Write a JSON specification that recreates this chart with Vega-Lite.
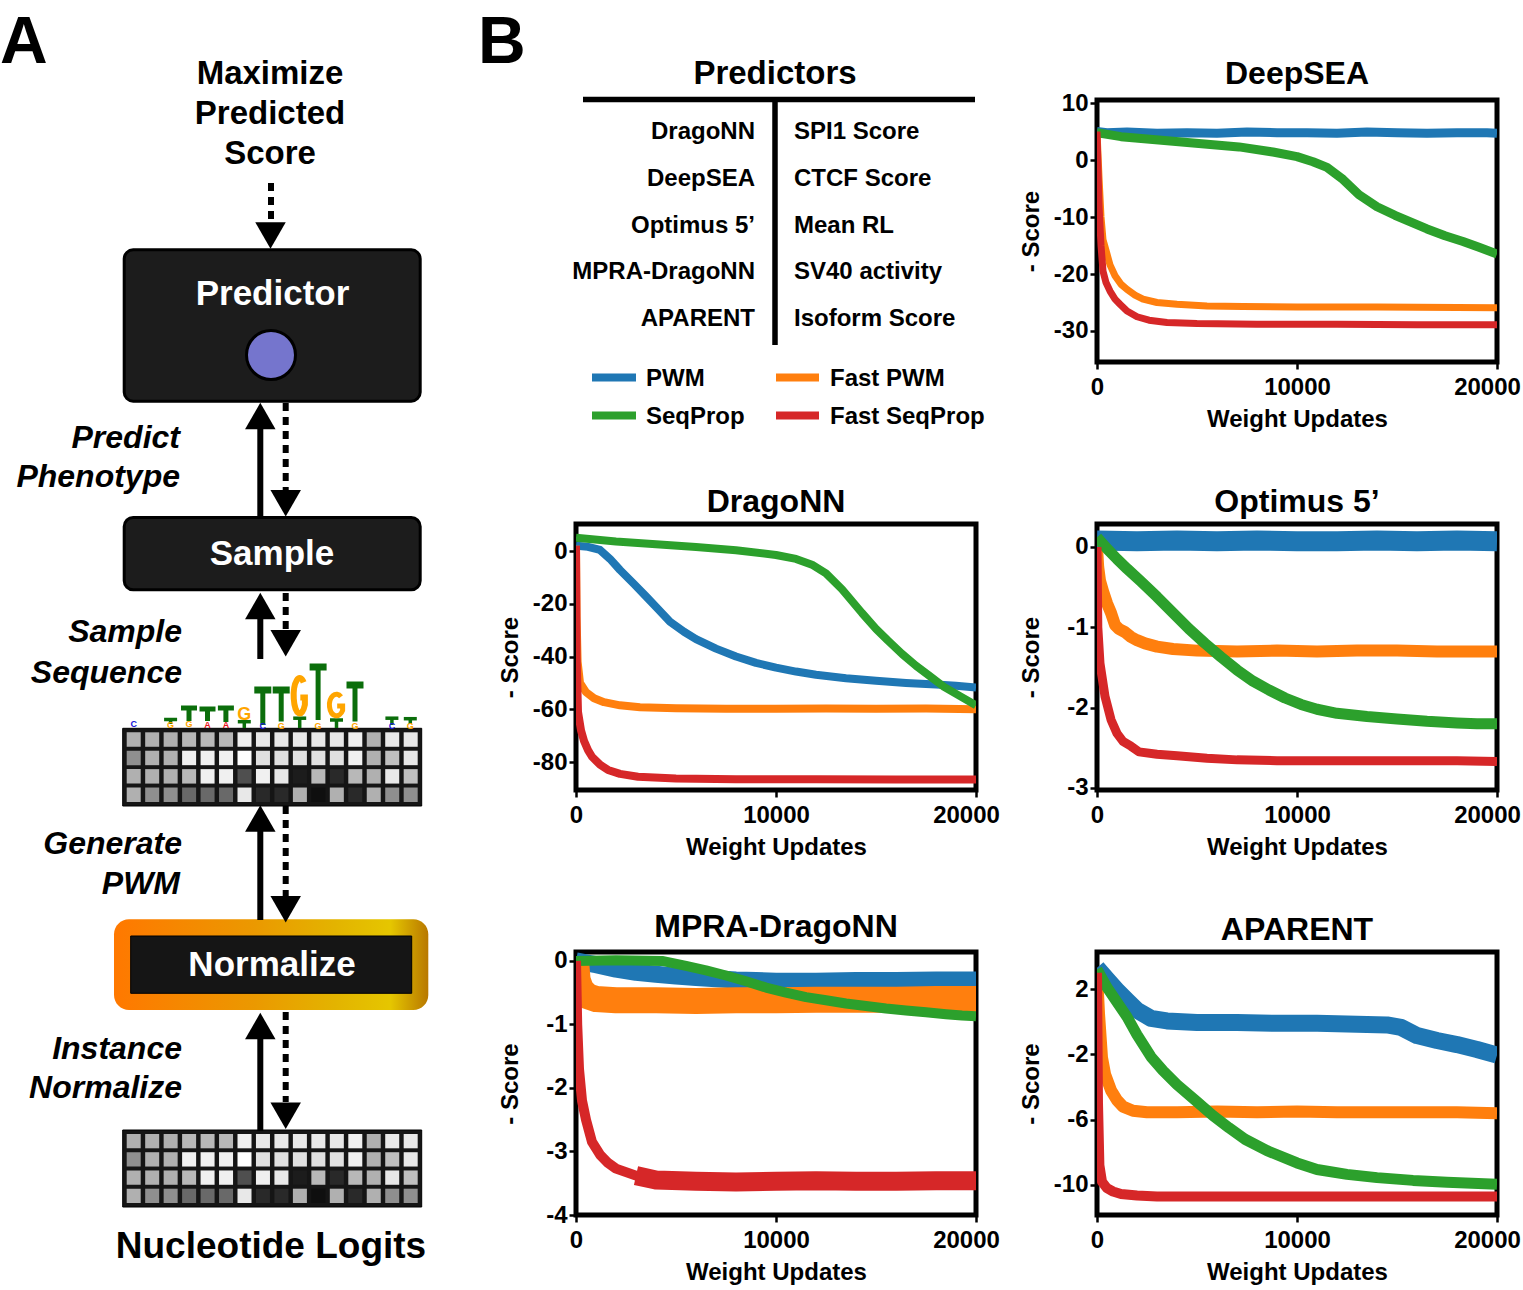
{
"$schema":"https://vega.github.io/schema/vega-lite/v6.json",
"padding":0,
"background":"white",
"config":{
 "view":{"stroke":null},
 "font":"Liberation Sans",
 "text":{"font":"Liberation Sans","fontWeight":"bold"},
 "axis":{"domain":false,"grid":false,"labelFont":"Liberation Sans","labelFontSize":24,"labelFontWeight":"bold","labelColor":"#000","titleFont":"Liberation Sans","titleFontSize":24,"titleFontWeight":"bold","titleColor":"#000","tickColor":"#000","tickSize":7,"tickWidth":2.5,"labelOverlap":false},
 "axisX":{"labelFlush":false,"labelPadding":6,"titlePadding":8},
 "axisY":{"labelPadding":2,"titlePadding":9,"minExtent":45,"maxExtent":45},
 "title":{"font":"Liberation Sans","fontSize":32,"fontWeight":"bold","color":"#000","frame":"group","offset":5,"anchor":"middle"}
},
"datasets":{
 "cells":[
  {"c":0,"r":0,"v":0.69},{"c":1,"r":0,"v":0.69},{"c":2,"r":0,"v":0.69},{"c":3,"r":0,"v":0.72},{"c":4,"r":0,"v":0.72},{"c":5,"r":0,"v":0.72},{"c":6,"r":0,"v":0.94},{"c":7,"r":0,"v":0.91},{"c":8,"r":0,"v":0.91},{"c":9,"r":0,"v":0.91},{"c":10,"r":0,"v":0.91},{"c":11,"r":0,"v":0.91},{"c":12,"r":0,"v":0.94},{"c":13,"r":0,"v":0.69},{"c":14,"r":0,"v":0.91},{"c":15,"r":0,"v":0.91},
  {"c":0,"r":1,"v":0.56},{"c":1,"r":1,"v":0.69},{"c":2,"r":1,"v":0.69},{"c":3,"r":1,"v":0.94},{"c":4,"r":1,"v":0.94},{"c":5,"r":1,"v":0.94},{"c":6,"r":1,"v":1.0},{"c":7,"r":1,"v":0.88},{"c":8,"r":1,"v":0.88},{"c":9,"r":1,"v":0.88},{"c":10,"r":1,"v":0.88},{"c":11,"r":1,"v":0.88},{"c":12,"r":1,"v":0.94},{"c":13,"r":1,"v":0.69},{"c":14,"r":1,"v":0.75},{"c":15,"r":1,"v":0.91},
  {"c":0,"r":2,"v":0.69},{"c":1,"r":2,"v":0.69},{"c":2,"r":2,"v":0.69},{"c":3,"r":2,"v":0.72},{"c":4,"r":2,"v":0.94},{"c":5,"r":2,"v":0.94},{"c":6,"r":2,"v":0.31},{"c":7,"r":2,"v":0.94},{"c":8,"r":2,"v":0.91},{"c":9,"r":2,"v":0.11},{"c":10,"r":2,"v":0.72},{"c":11,"r":2,"v":0.16},{"c":12,"r":2,"v":0.72},{"c":13,"r":2,"v":0.69},{"c":14,"r":2,"v":0.91},{"c":15,"r":2,"v":0.75},
  {"c":0,"r":3,"v":0.69},{"c":1,"r":3,"v":0.56},{"c":2,"r":3,"v":0.56},{"c":3,"r":3,"v":0.41},{"c":4,"r":3,"v":0.41},{"c":5,"r":3,"v":0.41},{"c":6,"r":3,"v":0.91},{"c":7,"r":3,"v":0.16},{"c":8,"r":3,"v":0.16},{"c":9,"r":3,"v":0.69},{"c":10,"r":3,"v":0.06},{"c":11,"r":3,"v":0.69},{"c":12,"r":3,"v":0.16},{"c":13,"r":3,"v":0.69},{"c":14,"r":3,"v":0.56},{"c":15,"r":3,"v":0.56}
 ],
 "logoT":[
  {"x":262.8,"t":690,"b":725,"k":"big"},{"x":281.2,"t":690,"b":721.5,"k":"big"},{"x":318.1,"t":667,"b":720,"k":"big"},{"x":355.0,"t":685,"b":721.5,"k":"big"},
  {"x":189.0,"t":708,"b":721,"k":"mid"},{"x":207.5,"t":709,"b":721,"k":"mid"},{"x":225.9,"t":708,"b":722,"k":"mid"},
  {"x":170.6,"t":719.5,"b":724,"k":"small"},{"x":244.3,"t":721.7,"b":728,"k":"small"},{"x":299.7,"t":718.2,"b":728,"k":"small"},{"x":336.5,"t":720,"b":728,"k":"small"},{"x":391.9,"t":718.2,"b":725,"k":"small"},{"x":410.3,"t":718.7,"b":724,"k":"small"}
 ],
 "logoS":[
  {"x":133.7,"y":727,"L":"C"},{"x":170.6,"y":728,"L":"G"},{"x":189.0,"y":727,"L":"G"},{"x":207.5,"y":727.5,"L":"A"},{"x":225.9,"y":728,"L":"A"},{"x":262.8,"y":728.5,"L":"C"},{"x":281.2,"y":728.5,"L":"G"},{"x":318.1,"y":728.5,"L":"G"},{"x":355.0,"y":728.5,"L":"G"},{"x":391.9,"y":728.5,"L":"C"},{"x":410.3,"y":728.5,"L":"G"}
 ],
 "dsea":[
  {"s":"PWM","x":0,"y":5.0},{"s":"PWM","x":500,"y":4.8},{"s":"PWM","x":1500,"y":4.9},{"s":"PWM","x":3000,"y":4.7},{"s":"PWM","x":4500,"y":4.8},{"s":"PWM","x":6000,"y":4.7},{"s":"PWM","x":7500,"y":4.9},{"s":"PWM","x":9000,"y":4.8},{"s":"PWM","x":10500,"y":4.8},{"s":"PWM","x":12000,"y":4.7},{"s":"PWM","x":13500,"y":4.9},{"s":"PWM","x":15000,"y":4.8},{"s":"PWM","x":16500,"y":4.7},{"s":"PWM","x":18000,"y":4.8},{"s":"PWM","x":19500,"y":4.8},{"s":"PWM","x":20000,"y":4.7},
  {"s":"Fast PWM","x":0,"y":5},{"s":"Fast PWM","x":100,"y":-3},{"s":"Fast PWM","x":200,"y":-10},{"s":"Fast PWM","x":300,"y":-14},{"s":"Fast PWM","x":500,"y":-16.5},{"s":"Fast PWM","x":650,"y":-18.4},{"s":"Fast PWM","x":900,"y":-20.3},{"s":"Fast PWM","x":1200,"y":-21.8},{"s":"Fast PWM","x":1500,"y":-22.7},{"s":"Fast PWM","x":1900,"y":-23.7},{"s":"Fast PWM","x":2300,"y":-24.4},{"s":"Fast PWM","x":3000,"y":-25},{"s":"Fast PWM","x":4000,"y":-25.3},{"s":"Fast PWM","x":5500,"y":-25.6},{"s":"Fast PWM","x":7300,"y":-25.7},{"s":"Fast PWM","x":10000,"y":-25.8},{"s":"Fast PWM","x":14000,"y":-25.8},{"s":"Fast PWM","x":20000,"y":-25.9},
  {"s":"SeqProp","x":0,"y":4.8},{"s":"SeqProp","x":1200,"y":4.1},{"s":"SeqProp","x":3800,"y":3.3},{"s":"SeqProp","x":7100,"y":2.3},{"s":"SeqProp","x":8800,"y":1.4},{"s":"SeqProp","x":10000,"y":0.6},{"s":"SeqProp","x":10800,"y":-0.3},{"s":"SeqProp","x":11500,"y":-1.3},{"s":"SeqProp","x":12300,"y":-3.4},{"s":"SeqProp","x":13100,"y":-6.1},{"s":"SeqProp","x":14000,"y":-8.2},{"s":"SeqProp","x":14900,"y":-9.7},{"s":"SeqProp","x":15700,"y":-10.9},{"s":"SeqProp","x":16500,"y":-12.1},{"s":"SeqProp","x":17400,"y":-13.3},{"s":"SeqProp","x":18300,"y":-14.3},{"s":"SeqProp","x":19100,"y":-15.3},{"s":"SeqProp","x":20000,"y":-16.5},
  {"s":"Fast SeqProp","x":0,"y":5},{"s":"Fast SeqProp","x":100,"y":-8},{"s":"Fast SeqProp","x":200,"y":-15},{"s":"Fast SeqProp","x":300,"y":-19.5},{"s":"Fast SeqProp","x":450,"y":-21.5},{"s":"Fast SeqProp","x":650,"y":-23},{"s":"Fast SeqProp","x":900,"y":-24.4},{"s":"Fast SeqProp","x":1150,"y":-25.3},{"s":"Fast SeqProp","x":1500,"y":-26.5},{"s":"Fast SeqProp","x":2000,"y":-27.5},{"s":"Fast SeqProp","x":2600,"y":-28.1},{"s":"Fast SeqProp","x":3500,"y":-28.5},{"s":"Fast SeqProp","x":5000,"y":-28.7},{"s":"Fast SeqProp","x":8000,"y":-28.8},{"s":"Fast SeqProp","x":12000,"y":-28.8},{"s":"Fast SeqProp","x":16000,"y":-28.9},{"s":"Fast SeqProp","x":20000,"y":-28.9}
 ],
 "drag":[
  {"s":"PWM","x":0,"y":2},{"s":"PWM","x":600,"y":1.6},{"s":"PWM","x":1200,"y":0.4},{"s":"PWM","x":1700,"y":-3},{"s":"PWM","x":2200,"y":-7.2},{"s":"PWM","x":2900,"y":-12.5},{"s":"PWM","x":3500,"y":-17.2},{"s":"PWM","x":4100,"y":-22},{"s":"PWM","x":4700,"y":-26.8},{"s":"PWM","x":5400,"y":-30.6},{"s":"PWM","x":6000,"y":-33.4},{"s":"PWM","x":7000,"y":-37},{"s":"PWM","x":8000,"y":-40},{"s":"PWM","x":9000,"y":-42.4},{"s":"PWM","x":10000,"y":-44.2},{"s":"PWM","x":11000,"y":-45.7},{"s":"PWM","x":12000,"y":-46.9},{"s":"PWM","x":13500,"y":-48.2},{"s":"PWM","x":15000,"y":-49.2},{"s":"PWM","x":16500,"y":-50},{"s":"PWM","x":18000,"y":-50.6},{"s":"PWM","x":19000,"y":-51.1},{"s":"PWM","x":20000,"y":-51.7},
  {"s":"Fast PWM","x":0,"y":2},{"s":"Fast PWM","x":30,"y":-25},{"s":"Fast PWM","x":80,"y":-42},{"s":"Fast PWM","x":200,"y":-50},{"s":"Fast PWM","x":500,"y":-53.5},{"s":"Fast PWM","x":900,"y":-55.8},{"s":"Fast PWM","x":1400,"y":-57.3},{"s":"Fast PWM","x":2200,"y":-58.5},{"s":"Fast PWM","x":3200,"y":-59.2},{"s":"Fast PWM","x":5000,"y":-59.6},{"s":"Fast PWM","x":7500,"y":-59.8},{"s":"Fast PWM","x":10000,"y":-59.8},{"s":"Fast PWM","x":12500,"y":-59.7},{"s":"Fast PWM","x":15000,"y":-59.8},{"s":"Fast PWM","x":17500,"y":-59.7},{"s":"Fast PWM","x":20000,"y":-60},
  {"s":"SeqProp","x":0,"y":5},{"s":"SeqProp","x":2000,"y":3.6},{"s":"SeqProp","x":4000,"y":2.6},{"s":"SeqProp","x":6000,"y":1.5},{"s":"SeqProp","x":8000,"y":0.3},{"s":"SeqProp","x":10000,"y":-1.5},{"s":"SeqProp","x":11000,"y":-3},{"s":"SeqProp","x":11800,"y":-5.2},{"s":"SeqProp","x":12500,"y":-8.5},{"s":"SeqProp","x":13300,"y":-14.5},{"s":"SeqProp","x":14300,"y":-23.5},{"s":"SeqProp","x":15000,"y":-29.5},{"s":"SeqProp","x":15600,"y":-34},{"s":"SeqProp","x":16300,"y":-39},{"s":"SeqProp","x":17000,"y":-43.5},{"s":"SeqProp","x":17700,"y":-47.5},{"s":"SeqProp","x":18400,"y":-51.5},{"s":"SeqProp","x":19200,"y":-55},{"s":"SeqProp","x":20000,"y":-58.5},
  {"s":"Fast SeqProp","x":0,"y":2},{"s":"Fast SeqProp","x":30,"y":-40},{"s":"Fast SeqProp","x":100,"y":-61},{"s":"Fast SeqProp","x":250,"y":-68},{"s":"Fast SeqProp","x":400,"y":-72},{"s":"Fast SeqProp","x":600,"y":-75.5},{"s":"Fast SeqProp","x":800,"y":-78},{"s":"Fast SeqProp","x":1200,"y":-81},{"s":"Fast SeqProp","x":1600,"y":-83},{"s":"Fast SeqProp","x":2200,"y":-84.5},{"s":"Fast SeqProp","x":3100,"y":-85.6},{"s":"Fast SeqProp","x":5000,"y":-86.2},{"s":"Fast SeqProp","x":8000,"y":-86.5},{"s":"Fast SeqProp","x":12000,"y":-86.5},{"s":"Fast SeqProp","x":16000,"y":-86.6},{"s":"Fast SeqProp","x":20000,"y":-86.6}
 ],
 "opt":[
  {"s":"PWM","x":0,"y":0.08},{"s":"PWM","x":2000,"y":0.07},{"s":"PWM","x":4000,"y":0.08},{"s":"PWM","x":6000,"y":0.07},{"s":"PWM","x":8000,"y":0.08},{"s":"PWM","x":10000,"y":0.07},{"s":"PWM","x":12000,"y":0.07},{"s":"PWM","x":14000,"y":0.08},{"s":"PWM","x":16000,"y":0.07},{"s":"PWM","x":18000,"y":0.08},{"s":"PWM","x":20000,"y":0.07},
  {"s":"Fast PWM","x":0,"y":0.0},{"s":"Fast PWM","x":60,"y":-0.25},{"s":"Fast PWM","x":150,"y":-0.42},{"s":"Fast PWM","x":300,"y":-0.55},{"s":"Fast PWM","x":500,"y":-0.7},{"s":"Fast PWM","x":700,"y":-0.82},{"s":"Fast PWM","x":900,"y":-0.97},{"s":"Fast PWM","x":1100,"y":-1.02},{"s":"Fast PWM","x":1400,"y":-1.06},{"s":"Fast PWM","x":1700,"y":-1.12},{"s":"Fast PWM","x":2000,"y":-1.16},{"s":"Fast PWM","x":2400,"y":-1.2},{"s":"Fast PWM","x":3000,"y":-1.24},{"s":"Fast PWM","x":3800,"y":-1.27},{"s":"Fast PWM","x":5000,"y":-1.29},{"s":"Fast PWM","x":7000,"y":-1.3},{"s":"Fast PWM","x":9000,"y":-1.29},{"s":"Fast PWM","x":11000,"y":-1.3},{"s":"Fast PWM","x":13000,"y":-1.29},{"s":"Fast PWM","x":15000,"y":-1.29},{"s":"Fast PWM","x":17000,"y":-1.3},{"s":"Fast PWM","x":20000,"y":-1.3},
  {"s":"SeqProp","x":0,"y":0.12},{"s":"SeqProp","x":500,"y":-0.02},{"s":"SeqProp","x":1000,"y":-0.15},{"s":"SeqProp","x":1500,"y":-0.27},{"s":"SeqProp","x":2200,"y":-0.43},{"s":"SeqProp","x":3000,"y":-0.62},{"s":"SeqProp","x":3800,"y":-0.82},{"s":"SeqProp","x":4600,"y":-1.02},{"s":"SeqProp","x":5400,"y":-1.2},{"s":"SeqProp","x":6200,"y":-1.37},{"s":"SeqProp","x":7000,"y":-1.53},{"s":"SeqProp","x":7800,"y":-1.67},{"s":"SeqProp","x":8600,"y":-1.78},{"s":"SeqProp","x":9400,"y":-1.88},{"s":"SeqProp","x":10200,"y":-1.96},{"s":"SeqProp","x":11000,"y":-2.02},{"s":"SeqProp","x":12000,"y":-2.07},{"s":"SeqProp","x":13500,"y":-2.11},{"s":"SeqProp","x":15000,"y":-2.14},{"s":"SeqProp","x":16500,"y":-2.17},{"s":"SeqProp","x":18000,"y":-2.19},{"s":"SeqProp","x":19000,"y":-2.2},{"s":"SeqProp","x":20000,"y":-2.2},
  {"s":"Fast SeqProp","x":0,"y":0.0},{"s":"Fast SeqProp","x":40,"y":-1.0},{"s":"Fast SeqProp","x":150,"y":-1.45},{"s":"Fast SeqProp","x":400,"y":-1.86},{"s":"Fast SeqProp","x":700,"y":-2.15},{"s":"Fast SeqProp","x":1000,"y":-2.32},{"s":"Fast SeqProp","x":1300,"y":-2.42},{"s":"Fast SeqProp","x":1700,"y":-2.48},{"s":"Fast SeqProp","x":2100,"y":-2.55},{"s":"Fast SeqProp","x":3000,"y":-2.58},{"s":"Fast SeqProp","x":4000,"y":-2.6},{"s":"Fast SeqProp","x":5500,"y":-2.63},{"s":"Fast SeqProp","x":7000,"y":-2.65},{"s":"Fast SeqProp","x":9000,"y":-2.66},{"s":"Fast SeqProp","x":12000,"y":-2.66},{"s":"Fast SeqProp","x":15000,"y":-2.66},{"s":"Fast SeqProp","x":18000,"y":-2.66},{"s":"Fast SeqProp","x":20000,"y":-2.67}
 ],
 "mpra":[
  {"s":"PWM","x":0,"y":0},{"s":"PWM","x":500,"y":-0.03},{"s":"PWM","x":1000,"y":-0.06},{"s":"PWM","x":2000,"y":-0.13},{"s":"PWM","x":3000,"y":-0.18},{"s":"PWM","x":4000,"y":-0.21},{"s":"PWM","x":5000,"y":-0.24},{"s":"PWM","x":6000,"y":-0.26},{"s":"PWM","x":7000,"y":-0.28},{"s":"PWM","x":8000,"y":-0.3},{"s":"PWM","x":9000,"y":-0.31},{"s":"PWM","x":10000,"y":-0.32},{"s":"PWM","x":12000,"y":-0.32},{"s":"PWM","x":14000,"y":-0.31},{"s":"PWM","x":16000,"y":-0.31},{"s":"PWM","x":18000,"y":-0.3},{"s":"PWM","x":20000,"y":-0.3},
  {"s":"Fast PWM","x":0,"y":0},{"s":"Fast PWM","x":80,"y":-0.3},{"s":"Fast PWM","x":250,"y":-0.45},{"s":"Fast PWM","x":600,"y":-0.56},{"s":"Fast PWM","x":1000,"y":-0.6},{"s":"Fast PWM","x":2000,"y":-0.62},{"s":"Fast PWM","x":4000,"y":-0.62},{"s":"Fast PWM","x":6000,"y":-0.63},{"s":"Fast PWM","x":8000,"y":-0.62},{"s":"Fast PWM","x":10000,"y":-0.62},{"s":"Fast PWM","x":12000,"y":-0.61},{"s":"Fast PWM","x":14000,"y":-0.61},{"s":"Fast PWM","x":16000,"y":-0.61},{"s":"Fast PWM","x":18000,"y":-0.6},{"s":"Fast PWM","x":20000,"y":-0.6},
  {"s":"SeqProp","x":0,"y":0},{"s":"SeqProp","x":2000,"y":0.01},{"s":"SeqProp","x":4300,"y":0.0},{"s":"SeqProp","x":5500,"y":-0.08},{"s":"SeqProp","x":6500,"y":-0.15},{"s":"SeqProp","x":7500,"y":-0.23},{"s":"SeqProp","x":8500,"y":-0.32},{"s":"SeqProp","x":9500,"y":-0.42},{"s":"SeqProp","x":10500,"y":-0.5},{"s":"SeqProp","x":11500,"y":-0.57},{"s":"SeqProp","x":12500,"y":-0.62},{"s":"SeqProp","x":13500,"y":-0.67},{"s":"SeqProp","x":14500,"y":-0.71},{"s":"SeqProp","x":15500,"y":-0.75},{"s":"SeqProp","x":16500,"y":-0.78},{"s":"SeqProp","x":17500,"y":-0.81},{"s":"SeqProp","x":18500,"y":-0.84},{"s":"SeqProp","x":19300,"y":-0.86},{"s":"SeqProp","x":20000,"y":-0.87},
  {"s":"Fast SeqProp","x":0,"y":0},{"s":"Fast SeqProp","x":60,"y":-1.0},{"s":"Fast SeqProp","x":150,"y":-1.7},{"s":"Fast SeqProp","x":300,"y":-2.2},{"s":"Fast SeqProp","x":500,"y":-2.5},{"s":"Fast SeqProp","x":800,"y":-2.85},{"s":"Fast SeqProp","x":1200,"y":-3.05},{"s":"Fast SeqProp","x":1600,"y":-3.18},{"s":"Fast SeqProp","x":2000,"y":-3.27},{"s":"Fast SeqProp","x":3000,"y":-3.38},{"s":"Fast SeqProp","x":4000,"y":-3.45},{"s":"Fast SeqProp","x":6000,"y":-3.47},{"s":"Fast SeqProp","x":8000,"y":-3.48},{"s":"Fast SeqProp","x":10000,"y":-3.47},{"s":"Fast SeqProp","x":12000,"y":-3.46},{"s":"Fast SeqProp","x":14000,"y":-3.47},{"s":"Fast SeqProp","x":16000,"y":-3.47},{"s":"Fast SeqProp","x":18000,"y":-3.46},{"s":"Fast SeqProp","x":20000,"y":-3.46}
 ],
 "apar":[
  {"s":"PWM","x":0,"y":3.3},{"s":"PWM","x":500,"y":2.6},{"s":"PWM","x":1000,"y":1.9},{"s":"PWM","x":1500,"y":1.3},{"s":"PWM","x":2000,"y":0.7},{"s":"PWM","x":2700,"y":0.2},{"s":"PWM","x":3500,"y":0.05},{"s":"PWM","x":5000,"y":-0.05},{"s":"PWM","x":7000,"y":-0.05},{"s":"PWM","x":9000,"y":-0.1},{"s":"PWM","x":11000,"y":-0.1},{"s":"PWM","x":13000,"y":-0.15},{"s":"PWM","x":14500,"y":-0.2},{"s":"PWM","x":15200,"y":-0.35},{"s":"PWM","x":16000,"y":-0.85},{"s":"PWM","x":17000,"y":-1.15},{"s":"PWM","x":18000,"y":-1.4},{"s":"PWM","x":19000,"y":-1.7},{"s":"PWM","x":20000,"y":-2.05},
  {"s":"Fast PWM","x":0,"y":3.0},{"s":"Fast PWM","x":100,"y":0.5},{"s":"Fast PWM","x":250,"y":-2.2},{"s":"Fast PWM","x":400,"y":-3.2},{"s":"Fast PWM","x":700,"y":-4.2},{"s":"Fast PWM","x":1000,"y":-4.8},{"s":"Fast PWM","x":1300,"y":-5.2},{"s":"Fast PWM","x":1800,"y":-5.45},{"s":"Fast PWM","x":2500,"y":-5.55},{"s":"Fast PWM","x":4000,"y":-5.55},{"s":"Fast PWM","x":6000,"y":-5.5},{"s":"Fast PWM","x":8000,"y":-5.55},{"s":"Fast PWM","x":10000,"y":-5.5},{"s":"Fast PWM","x":12000,"y":-5.55},{"s":"Fast PWM","x":14000,"y":-5.55},{"s":"Fast PWM","x":16000,"y":-5.55},{"s":"Fast PWM","x":18000,"y":-5.55},{"s":"Fast PWM","x":20000,"y":-5.6},
  {"s":"SeqProp","x":0,"y":3.2},{"s":"SeqProp","x":500,"y":2.1},{"s":"SeqProp","x":1000,"y":1.2},{"s":"SeqProp","x":1500,"y":0.3},{"s":"SeqProp","x":2000,"y":-0.8},{"s":"SeqProp","x":2700,"y":-2.15},{"s":"SeqProp","x":3300,"y":-3.0},{"s":"SeqProp","x":4000,"y":-3.85},{"s":"SeqProp","x":5000,"y":-4.9},{"s":"SeqProp","x":5800,"y":-5.75},{"s":"SeqProp","x":6600,"y":-6.5},{"s":"SeqProp","x":7400,"y":-7.2},{"s":"SeqProp","x":8500,"y":-7.9},{"s":"SeqProp","x":10000,"y":-8.65},{"s":"SeqProp","x":11000,"y":-9.05},{"s":"SeqProp","x":12500,"y":-9.35},{"s":"SeqProp","x":14000,"y":-9.55},{"s":"SeqProp","x":15800,"y":-9.72},{"s":"SeqProp","x":17500,"y":-9.83},{"s":"SeqProp","x":20000,"y":-9.95},
  {"s":"Fast SeqProp","x":0,"y":3.0},{"s":"Fast SeqProp","x":50,"y":-5},{"s":"Fast SeqProp","x":120,"y":-8.8},{"s":"Fast SeqProp","x":250,"y":-9.8},{"s":"Fast SeqProp","x":500,"y":-10.2},{"s":"Fast SeqProp","x":800,"y":-10.4},{"s":"Fast SeqProp","x":1200,"y":-10.55},{"s":"Fast SeqProp","x":2000,"y":-10.65},{"s":"Fast SeqProp","x":3000,"y":-10.7},{"s":"Fast SeqProp","x":6000,"y":-10.7},{"s":"Fast SeqProp","x":10000,"y":-10.7},{"s":"Fast SeqProp","x":14000,"y":-10.7},{"s":"Fast SeqProp","x":18000,"y":-10.7},{"s":"Fast SeqProp","x":20000,"y":-10.7}
 ]
},
"hconcat":[
 {
  "width":470,"height":1290,
  "resolve":{"scale":{"x":"independent","y":"independent","color":"independent"}},
  "layer":[
   {"data":{"values":[{"x":124.2,"x2":420.2,"y":249.8,"y2":401.2},{"x":124.2,"x2":420.2,"y":517.5,"y2":589.8}]},
    "mark":{"type":"rect","cornerRadius":9,"fill":"#1c1c1c","stroke":"#000","strokeWidth":3},
    "encoding":{"x":{"field":"x","type":"quantitative","scale":{"domain":[0,470],"nice":false,"zero":false},"axis":null},"x2":{"field":"x2"},"y":{"field":"y","type":"quantitative","scale":{"domain":[0,1290],"nice":false,"zero":false,"reverse":true},"axis":null},"y2":{"field":"y2"}}},
   {"data":{"values":[{"x":114,"x2":428.3,"y":919.3,"y2":1010}]},
    "mark":{"type":"rect","cornerRadius":15,"fill":{"gradient":"linear","x1":0,"y1":0,"x2":1,"y2":0,"stops":[{"offset":0,"color":"#ff7800"},{"offset":0.45,"color":"#eb9900"},{"offset":0.7,"color":"#e3b300"},{"offset":0.88,"color":"#e5c600"},{"offset":1,"color":"#b87800"}]}},
    "encoding":{"x":{"field":"x","type":"quantitative","scale":{"domain":[0,470],"nice":false,"zero":false},"axis":null},"x2":{"field":"x2"},"y":{"field":"y","type":"quantitative","scale":{"domain":[0,1290],"nice":false,"zero":false,"reverse":true},"axis":null},"y2":{"field":"y2"}}},
   {"data":{"values":[{"x":130.7,"x2":411.7,"y":936,"y2":993.3},{"x":122.7,"x2":421.7,"y":728.3,"y2":806},{"x":122.7,"x2":421.7,"y":1130,"y2":1207}]},
    "mark":{"type":"rect","fill":"#151515","stroke":"#000","strokeWidth":1},
    "encoding":{"x":{"field":"x","type":"quantitative","scale":{"domain":[0,470],"nice":false,"zero":false},"axis":null},"x2":{"field":"x2"},"y":{"field":"y","type":"quantitative","scale":{"domain":[0,1290],"nice":false,"zero":false,"reverse":true},"axis":null},"y2":{"field":"y2"}}},
   {"data":{"name":"cells"},"mark":{"type":"rect"},
    "encoding":{"x":{"field":"c","type":"ordinal","scale":{"range":[122.7,421.7],"paddingInner":0.241,"paddingOuter":0.217},"axis":null},"y":{"field":"r","type":"ordinal","scale":{"range":[728.3,806],"paddingInner":0.214,"paddingOuter":0.218},"axis":null},"color":{"field":"v","type":"quantitative","scale":{"domain":[0,1],"range":["#000000","#ffffff"],"interpolate":"rgb"},"legend":null}}},
   {"data":{"name":"cells"},"mark":{"type":"rect"},
    "encoding":{"x":{"field":"c","type":"ordinal","scale":{"range":[122.7,421.7],"paddingInner":0.241,"paddingOuter":0.217},"axis":null},"y":{"field":"r","type":"ordinal","scale":{"range":[1130,1207],"paddingInner":0.214,"paddingOuter":0.218},"axis":null},"color":{"field":"v","type":"quantitative","scale":{"domain":[0,1],"range":["#000000","#ffffff"],"interpolate":"rgb"},"legend":null}}},
   {"data":{"values":[{"x":271,"y":355}]},
    "mark":{"type":"point","shape":"circle","filled":true,"fill":"#7575cd","stroke":"#000","strokeWidth":3,"size":2400,"opacity":1},
    "encoding":{"x":{"field":"x","type":"quantitative","scale":{"domain":[0,470],"nice":false,"zero":false},"axis":null},"y":{"field":"y","type":"quantitative","scale":{"domain":[0,1290],"nice":false,"zero":false,"reverse":true},"axis":null}}},
   {"data":{"values":[{"x":260.3,"y":420,"y2":517},{"x":260.3,"y":610,"y2":659},{"x":260.3,"y":822,"y2":920},{"x":260.3,"y":1030,"y2":1131}]},
    "mark":{"type":"rule","strokeWidth":6,"color":"#000"},
    "encoding":{"x":{"field":"x","type":"quantitative","scale":{"domain":[0,470],"nice":false,"zero":false},"axis":null},"y":{"field":"y","type":"quantitative","scale":{"domain":[0,1290],"nice":false,"zero":false,"reverse":true},"axis":null},"y2":{"field":"y2"}}},
   {"data":{"values":[{"x":271,"y":183,"y2":223},{"x":285.7,"y":403,"y2":491},{"x":285.7,"y":593,"y2":631},{"x":285.7,"y":806,"y2":897},{"x":285.7,"y":1012,"y2":1102}]},
    "mark":{"type":"rule","strokeWidth":6,"color":"#000","strokeDash":[8,6]},
    "encoding":{"x":{"field":"x","type":"quantitative","scale":{"domain":[0,470],"nice":false,"zero":false},"axis":null},"y":{"field":"y","type":"quantitative","scale":{"domain":[0,1290],"nice":false,"zero":false,"reverse":true},"axis":null},"y2":{"field":"y2"}}},
   {"data":{"values":[{"x":260.3,"y":416},{"x":260.3,"y":606},{"x":260.3,"y":818.5},{"x":260.3,"y":1026}]},
    "mark":{"type":"point","shape":"triangle-up","filled":true,"color":"#000","size":930,"opacity":1},
    "encoding":{"x":{"field":"x","type":"quantitative","scale":{"domain":[0,470],"nice":false,"zero":false},"axis":null},"y":{"field":"y","type":"quantitative","scale":{"domain":[0,1290],"nice":false,"zero":false,"reverse":true},"axis":null}}},
   {"data":{"values":[{"x":270.5,"y":235.5},{"x":285.7,"y":503.3},{"x":285.7,"y":643.3},{"x":285.7,"y":909.2},{"x":285.7,"y":1115.8}]},
    "mark":{"type":"point","shape":"triangle-down","filled":true,"color":"#000","size":930,"opacity":1},
    "encoding":{"x":{"field":"x","type":"quantitative","scale":{"domain":[0,470],"nice":false,"zero":false},"axis":null},"y":{"field":"y","type":"quantitative","scale":{"domain":[0,1290],"nice":false,"zero":false,"reverse":true},"axis":null}}},
   {"data":{"values":[{"x":272.5,"y":305,"t":"Predictor"},{"x":272,"y":565,"t":"Sample"},{"x":272,"y":976,"t":"Normalize"}]},
    "mark":{"type":"text","align":"center","baseline":"alphabetic","fontSize":35,"fontWeight":"bold","color":"#ffffff"},
    "encoding":{"x":{"field":"x","type":"quantitative","scale":{"domain":[0,470],"nice":false,"zero":false},"axis":null},"y":{"field":"y","type":"quantitative","scale":{"domain":[0,1290],"nice":false,"zero":false,"reverse":true},"axis":null},"text":{"field":"t"}}},
   {"data":{"values":[{"x":270,"y":84,"t":"Maximize"},{"x":270,"y":124,"t":"Predicted"},{"x":270,"y":164,"t":"Score"}]},
    "mark":{"type":"text","align":"center","baseline":"alphabetic","fontSize":33,"fontWeight":"bold","color":"#000"},
    "encoding":{"x":{"field":"x","type":"quantitative","scale":{"domain":[0,470],"nice":false,"zero":false},"axis":null},"y":{"field":"y","type":"quantitative","scale":{"domain":[0,1290],"nice":false,"zero":false,"reverse":true},"axis":null},"text":{"field":"t"}}},
   {"data":{"values":[{"x":271,"y":1258,"t":"Nucleotide Logits"}]},
    "mark":{"type":"text","align":"center","baseline":"alphabetic","fontSize":37,"fontWeight":"bold","color":"#000"},
    "encoding":{"x":{"field":"x","type":"quantitative","scale":{"domain":[0,470],"nice":false,"zero":false},"axis":null},"y":{"field":"y","type":"quantitative","scale":{"domain":[0,1290],"nice":false,"zero":false,"reverse":true},"axis":null},"text":{"field":"t"}}},
   {"data":{"values":[{"x":180,"y":448,"t":"Predict"},{"x":180,"y":487,"t":"Phenotype"},{"x":182,"y":642,"t":"Sample"},{"x":182,"y":683,"t":"Sequence"},{"x":182,"y":854,"t":"Generate"},{"x":180,"y":894,"t":"PWM"},{"x":182,"y":1059,"t":"Instance"},{"x":182,"y":1098,"t":"Normalize"}]},
    "mark":{"type":"text","align":"right","baseline":"alphabetic","fontSize":32,"fontWeight":"bold","fontStyle":"italic","color":"#000"},
    "encoding":{"x":{"field":"x","type":"quantitative","scale":{"domain":[0,470],"nice":false,"zero":false},"axis":null},"y":{"field":"y","type":"quantitative","scale":{"domain":[0,1290],"nice":false,"zero":false,"reverse":true},"axis":null},"text":{"field":"t"}}},
   {"data":{"values":[{"x":0,"y":63,"t":"A"}]},
    "mark":{"type":"text","align":"left","baseline":"alphabetic","fontSize":66,"fontWeight":"bold","color":"#000"},
    "encoding":{"x":{"field":"x","type":"quantitative","scale":{"domain":[0,470],"nice":false,"zero":false},"axis":null},"y":{"field":"y","type":"quantitative","scale":{"domain":[0,1290],"nice":false,"zero":false,"reverse":true},"axis":null},"text":{"field":"t"}}},
   {"data":{"name":"logoT"},"transform":[{"filter":"datum.k != 'small'"}],
    "mark":{"type":"rule","strokeWidth":5,"color":"#0b6e0b"},
    "encoding":{"x":{"field":"x","type":"quantitative","scale":{"domain":[0,470],"nice":false,"zero":false},"axis":null},"y":{"field":"t","type":"quantitative","scale":{"domain":[0,1290],"nice":false,"zero":false,"reverse":true},"axis":null},"y2":{"field":"b"}}},
   {"data":{"name":"logoT"},"transform":[{"filter":"datum.k == 'small'"}],
    "mark":{"type":"rule","strokeWidth":3.5,"color":"#0b6e0b"},
    "encoding":{"x":{"field":"x","type":"quantitative","scale":{"domain":[0,470],"nice":false,"zero":false},"axis":null},"y":{"field":"t","type":"quantitative","scale":{"domain":[0,1290],"nice":false,"zero":false,"reverse":true},"axis":null},"y2":{"field":"b"}}},
   {"data":{"name":"logoT"},"transform":[{"filter":"datum.k == 'big'"}],
    "mark":{"type":"tick","orient":"horizontal","thickness":7,"size":17,"color":"#0b6e0b","opacity":1},
    "encoding":{"x":{"field":"x","type":"quantitative","scale":{"domain":[0,470],"nice":false,"zero":false},"axis":null},"y":{"field":"t","type":"quantitative","scale":{"domain":[0,1290],"nice":false,"zero":false,"reverse":true},"axis":null}}},
   {"data":{"name":"logoT"},"transform":[{"filter":"datum.k == 'mid'"}],
    "mark":{"type":"tick","orient":"horizontal","thickness":5,"size":16,"color":"#0b6e0b","opacity":1},
    "encoding":{"x":{"field":"x","type":"quantitative","scale":{"domain":[0,470],"nice":false,"zero":false},"axis":null},"y":{"field":"t","type":"quantitative","scale":{"domain":[0,1290],"nice":false,"zero":false,"reverse":true},"axis":null}}},
   {"data":{"name":"logoT"},"transform":[{"filter":"datum.k == 'small'"}],
    "mark":{"type":"tick","orient":"horizontal","thickness":3.5,"size":13,"color":"#0b6e0b","opacity":1},
    "encoding":{"x":{"field":"x","type":"quantitative","scale":{"domain":[0,470],"nice":false,"zero":false},"axis":null},"y":{"field":"t","type":"quantitative","scale":{"domain":[0,1290],"nice":false,"zero":false,"reverse":true},"axis":null}}},
   {"data":{"values":[{"x":299.7,"y":695.8}]},
    "mark":{"type":"point","shape":"M0.19,-0.65 A0.29,0.855 0 1 0 0.25,0.43 L0.25,0.08 L0.03,0.08","filled":false,"stroke":"#ffa500","strokeWidth":6,"size":1722,"opacity":1},
    "encoding":{"x":{"field":"x","type":"quantitative","scale":{"domain":[0,470],"nice":false,"zero":false},"axis":null},"y":{"field":"y","type":"quantitative","scale":{"domain":[0,1290],"nice":false,"zero":false,"reverse":true},"axis":null}}},
   {"data":{"values":[{"x":336.5,"y":705}]},
    "mark":{"type":"point","shape":"M0.34,-0.62 A0.53,0.81 0 1 0 0.46,0.4 L0.46,0.08 L0.05,0.08","filled":false,"stroke":"#ffa500","strokeWidth":5,"size":708,"opacity":1},
    "encoding":{"x":{"field":"x","type":"quantitative","scale":{"domain":[0,470],"nice":false,"zero":false},"axis":null},"y":{"field":"y","type":"quantitative","scale":{"domain":[0,1290],"nice":false,"zero":false,"reverse":true},"axis":null}}},
   {"data":{"values":[{"x":244.3,"y":720,"t":"G"}]},
    "mark":{"type":"text","align":"center","baseline":"alphabetic","fontSize":18,"fontWeight":"bold","color":"#ffa500"},
    "encoding":{"x":{"field":"x","type":"quantitative","scale":{"domain":[0,470],"nice":false,"zero":false},"axis":null},"y":{"field":"y","type":"quantitative","scale":{"domain":[0,1290],"nice":false,"zero":false,"reverse":true},"axis":null},"text":{"field":"t"}}},
   {"data":{"name":"logoS"},
    "mark":{"type":"text","align":"center","baseline":"alphabetic","fontSize":9,"fontWeight":"bold"},
    "encoding":{"x":{"field":"x","type":"quantitative","scale":{"domain":[0,470],"nice":false,"zero":false},"axis":null},"y":{"field":"y","type":"quantitative","scale":{"domain":[0,1290],"nice":false,"zero":false,"reverse":true},"axis":null},"text":{"field":"L"},"color":{"field":"L","type":"nominal","scale":{"domain":["A","C","G","T"],"range":["#e8151b","#1515d8","#ffa500","#0b6e0b"]},"legend":null}}}
  ]
 },
 {
  "vconcat":[
   {
    "width":921,"height":100,
    "layer":[
     {"data":{"values":[{"x":478,"y":63,"t":"B"}]},
      "mark":{"type":"text","align":"left","baseline":"alphabetic","fontSize":66,"fontWeight":"bold","color":"#000"},
      "encoding":{"x":{"field":"x","type":"quantitative","scale":{"domain":[576,1497],"nice":false,"zero":false},"axis":null},"y":{"field":"y","type":"quantitative","scale":{"domain":[0,100],"nice":false,"zero":false,"reverse":true},"axis":null},"text":{"field":"t"}}},
     {"data":{"values":[{"x":775,"y":84,"t":"Predictors"}]},
      "mark":{"type":"text","align":"center","baseline":"alphabetic","fontSize":33,"fontWeight":"bold","color":"#000"},
      "encoding":{"x":{"field":"x","type":"quantitative","scale":{"domain":[576,1497],"nice":false,"zero":false},"axis":null},"y":{"field":"y","type":"quantitative","scale":{"domain":[0,100],"nice":false,"zero":false,"reverse":true},"axis":null},"text":{"field":"t"}}},
     {"data":{"values":[{"x":583,"x2":975,"y":99.5}]},
      "mark":{"type":"rule","strokeWidth":5.5,"color":"#000"},
      "encoding":{"x":{"field":"x","type":"quantitative","scale":{"domain":[576,1497],"nice":false,"zero":false},"axis":null},"x2":{"field":"x2"},"y":{"field":"y","type":"quantitative","scale":{"domain":[0,100],"nice":false,"zero":false,"reverse":true},"axis":null}}}
    ]
   },
   {
    "concat":[
     {
      "width":400,"height":262,
      "layer":[
       {"data":{"values":[{"x":775,"y":100,"y2":345}]},
        "mark":{"type":"rule","strokeWidth":5.5,"color":"#000"},
        "encoding":{"x":{"field":"x","type":"quantitative","scale":{"domain":[576,976],"nice":false,"zero":false},"axis":null},"y":{"field":"y","type":"quantitative","scale":{"domain":[100,362],"nice":false,"zero":false,"reverse":true},"axis":null},"y2":{"field":"y2"}}},
       {"data":{"values":[{"x":755,"y":139,"t":"DragoNN"},{"x":755,"y":186,"t":"DeepSEA"},{"x":755,"y":232.5,"t":"Optimus 5’"},{"x":755,"y":279,"t":"MPRA-DragoNN"},{"x":755,"y":326,"t":"APARENT"}]},
        "mark":{"type":"text","align":"right","baseline":"alphabetic","fontSize":24,"fontWeight":"bold","color":"#000"},
        "encoding":{"x":{"field":"x","type":"quantitative","scale":{"domain":[576,976],"nice":false,"zero":false},"axis":null},"y":{"field":"y","type":"quantitative","scale":{"domain":[100,362],"nice":false,"zero":false,"reverse":true},"axis":null},"text":{"field":"t"}}},
       {"data":{"values":[{"x":794,"y":139,"t":"SPI1 Score"},{"x":794,"y":186,"t":"CTCF Score"},{"x":794,"y":232.5,"t":"Mean RL"},{"x":794,"y":279,"t":"SV40 activity"},{"x":794,"y":326,"t":"Isoform Score"}]},
        "mark":{"type":"text","align":"left","baseline":"alphabetic","fontSize":24,"fontWeight":"bold","color":"#000"},
        "encoding":{"x":{"field":"x","type":"quantitative","scale":{"domain":[576,976],"nice":false,"zero":false},"axis":null},"y":{"field":"y","type":"quantitative","scale":{"domain":[100,362],"nice":false,"zero":false,"reverse":true},"axis":null},"text":{"field":"t"}}},
       {"data":{"values":[{"s":"PWM","x":592,"x2":636,"y":377.5},{"s":"SeqProp","x":592,"x2":636,"y":415.5},{"s":"Fast PWM","x":776,"x2":819,"y":377.5},{"s":"Fast SeqProp","x":776,"x2":819,"y":415.5}]},
        "mark":{"type":"rule","strokeWidth":8},
        "encoding":{"x":{"field":"x","type":"quantitative","scale":{"domain":[576,976],"nice":false,"zero":false},"axis":null},"x2":{"field":"x2"},"y":{"field":"y","type":"quantitative","scale":{"domain":[100,362],"nice":false,"zero":false,"reverse":true},"axis":null},"color":{"field":"s","type":"nominal","scale":{"domain":["PWM","Fast PWM","SeqProp","Fast SeqProp"],"range":["#1f77b4","#ff7f0e","#2ca02c","#d62728"]},"legend":null}}},
       {"data":{"values":[{"x":646,"y":386,"t":"PWM"},{"x":646,"y":424,"t":"SeqProp"},{"x":830,"y":386,"t":"Fast PWM"},{"x":830,"y":424,"t":"Fast SeqProp"}]},
        "mark":{"type":"text","align":"left","baseline":"alphabetic","fontSize":24,"fontWeight":"bold","color":"#000"},
        "encoding":{"x":{"field":"x","type":"quantitative","scale":{"domain":[576,976],"nice":false,"zero":false},"axis":null},"y":{"field":"y","type":"quantitative","scale":{"domain":[100,362],"nice":false,"zero":false,"reverse":true},"axis":null},"text":{"field":"t"}}}
      ]
     },
     {
      "width":400,"height":262,
      "view":{"stroke":"#000","strokeWidth":5},
      "title":{"text":"DeepSEA","offset":0},
      "data":{"name":"dsea"},
      "encoding":{
       "x":{"field":"x","type":"quantitative","scale":{"domain":[0,20000],"nice":false,"zero":false},"axis":{"values":[0,10000,20000],"title":"Weight Updates","labelExpr":"'' + datum.value","labelOffset":{"condition":{"test":"datum.value == 20000","value":-10},"value":0}}},
       "y":{"field":"y","type":"quantitative","scale":{"domain":[-35.44,10.53],"nice":false,"zero":false},"axis":{"values":[10,0,-10,-20,-30],"title":"- Score","labelExpr":"'' + datum.value"}}
      },
      "layer":[
       {"transform":[{"filter":"datum.s == 'PWM'"}],"mark":{"type":"line","color":"#1f77b4","strokeWidth":9,"clip":true,"strokeJoin":"round"}},
       {"transform":[{"filter":"datum.s == 'Fast PWM'"}],"mark":{"type":"line","color":"#ff7f0e","strokeWidth":7,"clip":true,"strokeJoin":"round"}},
       {"transform":[{"filter":"datum.s == 'SeqProp'"}],"mark":{"type":"line","color":"#2ca02c","strokeWidth":9,"clip":true,"strokeJoin":"round"}},
       {"transform":[{"filter":"datum.s == 'Fast SeqProp'"}],"mark":{"type":"line","color":"#d62728","strokeWidth":7,"clip":true,"strokeJoin":"round"}}
      ]
     },
     {
      "width":400,"height":266,
      "view":{"stroke":"#000","strokeWidth":5},
      "title":"DragoNN",
      "data":{"name":"drag"},
      "encoding":{
       "x":{"field":"x","type":"quantitative","scale":{"domain":[0,20000],"nice":false,"zero":false},"axis":{"values":[0,10000,20000],"title":"Weight Updates","labelExpr":"'' + datum.value","labelOffset":{"condition":{"test":"datum.value == 20000","value":-10},"value":0}}},
       "y":{"field":"y","type":"quantitative","scale":{"domain":[-90.6,10.24],"nice":false,"zero":false},"axis":{"values":[0,-20,-40,-60,-80],"title":"- Score","labelExpr":"'' + datum.value"}}
      },
      "layer":[
       {"transform":[{"filter":"datum.s == 'PWM'"}],"mark":{"type":"line","color":"#1f77b4","strokeWidth":8,"clip":true,"strokeJoin":"round"}},
       {"transform":[{"filter":"datum.s == 'Fast PWM'"}],"mark":{"type":"line","color":"#ff7f0e","strokeWidth":8,"clip":true,"strokeJoin":"round"}},
       {"transform":[{"filter":"datum.s == 'SeqProp'"}],"mark":{"type":"line","color":"#2ca02c","strokeWidth":8,"clip":true,"strokeJoin":"round"}},
       {"transform":[{"filter":"datum.s == 'Fast SeqProp'"}],"mark":{"type":"line","color":"#d62728","strokeWidth":8,"clip":true,"strokeJoin":"round"}}
      ]
     },
     {
      "width":400,"height":266,
      "view":{"stroke":"#000","strokeWidth":5},
      "title":"Optimus 5’",
      "data":{"name":"opt"},
      "encoding":{
       "x":{"field":"x","type":"quantitative","scale":{"domain":[0,20000],"nice":false,"zero":false},"axis":{"values":[0,10000,20000],"title":"Weight Updates","labelExpr":"'' + datum.value","labelOffset":{"condition":{"test":"datum.value == 20000","value":-10},"value":0}}},
       "y":{"field":"y","type":"quantitative","scale":{"domain":[-3.025,0.286],"nice":false,"zero":false},"axis":{"values":[0,-1,-2,-3],"title":"- Score","labelExpr":"'' + datum.value"}}
      },
      "layer":[
       {"transform":[{"filter":"datum.s == 'PWM'"}],"mark":{"type":"line","color":"#1f77b4","strokeWidth":20,"clip":true,"strokeJoin":"round"}},
       {"transform":[{"filter":"datum.s == 'Fast PWM'"}],"mark":{"type":"line","color":"#ff7f0e","strokeWidth":12,"clip":true,"strokeJoin":"round"}},
       {"transform":[{"filter":"datum.s == 'SeqProp'"}],"mark":{"type":"line","color":"#2ca02c","strokeWidth":11,"clip":true,"strokeJoin":"round"}},
       {"transform":[{"filter":"datum.s == 'Fast SeqProp'"}],"mark":{"type":"line","color":"#d62728","strokeWidth":9,"clip":true,"strokeJoin":"round"}}
      ]
     },
     {
      "width":400,"height":263,
      "view":{"stroke":"#000","strokeWidth":5},
      "title":"MPRA-DragoNN",
      "data":{"name":"mpra"},
      "encoding":{
       "x":{"field":"x","type":"quantitative","scale":{"domain":[0,20000],"nice":false,"zero":false},"axis":{"values":[0,10000,20000],"title":"Weight Updates","labelExpr":"'' + datum.value","labelOffset":{"condition":{"test":"datum.value == 20000","value":-10},"value":0}}},
       "y":{"field":"y","type":"quantitative","scale":{"domain":[-4,0.14],"nice":false,"zero":false},"axis":{"values":[0,-1,-2,-3,-4],"title":"- Score","labelExpr":"'' + datum.value"}}
      },
      "layer":[
       {"transform":[{"filter":"datum.s == 'PWM'"}],"mark":{"type":"line","color":"#1f77b4","strokeWidth":17,"clip":true,"strokeJoin":"round"}},
       {"transform":[{"filter":"datum.s == 'Fast PWM'"}],"mark":{"type":"line","color":"#ff7f0e","strokeWidth":26,"clip":true,"strokeJoin":"round"}},
       {"transform":[{"filter":"datum.s == 'SeqProp'"}],"mark":{"type":"line","color":"#2ca02c","strokeWidth":10,"clip":true,"strokeJoin":"round"}},
       {"transform":[{"filter":"datum.s == 'Fast SeqProp'"}],"mark":{"type":"line","color":"#d62728","strokeWidth":10,"clip":true,"strokeJoin":"round"}},
       {"transform":[{"filter":"datum.s == 'Fast SeqProp' && datum.x >= 3000"}],"mark":{"type":"line","color":"#d62728","strokeWidth":19,"clip":true,"strokeJoin":"round"}}
      ]
     },
     {
      "width":400,"height":263,
      "view":{"stroke":"#000","strokeWidth":5},
      "title":"APARENT",
      "data":{"name":"apar"},
      "encoding":{
       "x":{"field":"x","type":"quantitative","scale":{"domain":[0,20000],"nice":false,"zero":false},"axis":{"values":[0,10000,20000],"title":"Weight Updates","labelExpr":"'' + datum.value","labelOffset":{"condition":{"test":"datum.value == 20000","value":-10},"value":0}}},
       "y":{"field":"y","type":"quantitative","scale":{"domain":[-11.84,4.27],"nice":false,"zero":false},"axis":{"values":[2,-2,-6,-10],"title":"- Score","labelExpr":"'' + datum.value"}}
      },
      "layer":[
       {"transform":[{"filter":"datum.s == 'PWM'"}],"mark":{"type":"line","color":"#1f77b4","strokeWidth":17,"clip":true,"strokeJoin":"round"}},
       {"transform":[{"filter":"datum.s == 'Fast PWM'"}],"mark":{"type":"line","color":"#ff7f0e","strokeWidth":12,"clip":true,"strokeJoin":"round"}},
       {"transform":[{"filter":"datum.s == 'SeqProp'"}],"mark":{"type":"line","color":"#2ca02c","strokeWidth":11,"clip":true,"strokeJoin":"round"}},
       {"transform":[{"filter":"datum.s == 'Fast SeqProp'"}],"mark":{"type":"line","color":"#d62728","strokeWidth":10,"clip":true,"strokeJoin":"round"}}
      ]
     }
    ],
    "columns":2,
    "spacing":{"row":162,"column":121},
    "bounds":"flush"
   }
  ],
  "spacing":0,"bounds":"flush",
  "resolve":{"scale":{"color":"independent"}}
 }
],
"spacing":106,"bounds":"flush",
"resolve":{"scale":{"color":"independent"}}
}
